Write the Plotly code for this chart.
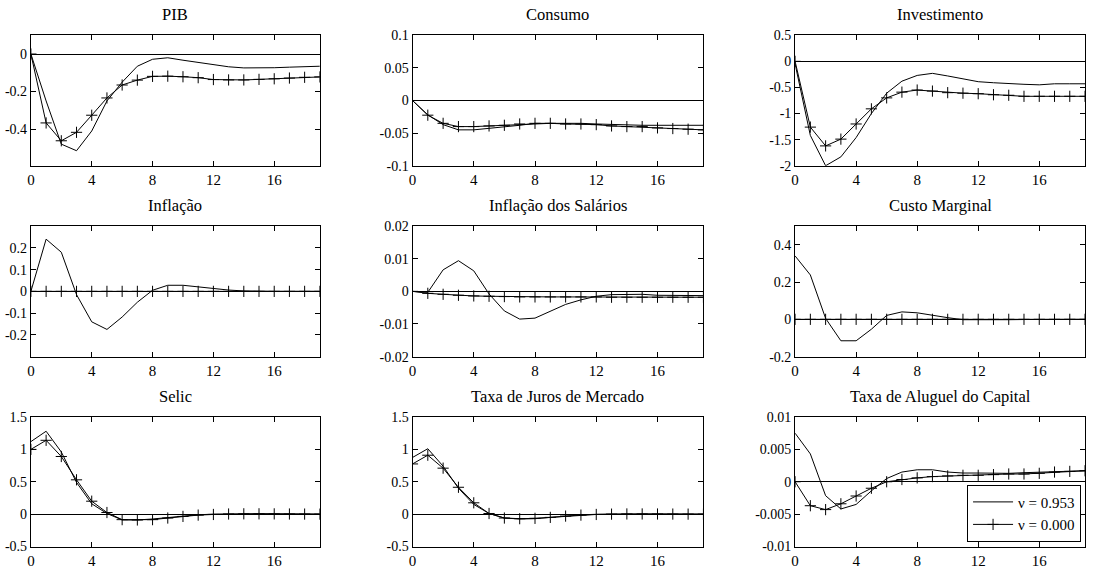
import plotly.graph_objects as go

periods = list(range(20))

titles = ["PIB", "Consumo", "Investimento",
          "Inflação", "Inflação dos Salários", "Custo Marginal",
          "Selic", "Taxa de Juros de Mercado", "Taxa de Aluguel do Capital"]

series_names = ["ν = 0.953", "ν = 0.000"]

# v = 0.953 (plain line) and v = 0.000 (line with + markers)
pib_a = [0, -0.25, -0.48, -0.515, -0.41, -0.25, -0.15, -0.065, -0.028, -0.02,
         -0.033, -0.046, -0.057, -0.068, -0.074, -0.075, -0.073, -0.07, -0.067, -0.065]
pib_b = [0, -0.367, -0.462, -0.417, -0.326, -0.234, -0.165, -0.139, -0.119, -0.118,
         -0.121, -0.126, -0.136, -0.138, -0.138, -0.135, -0.132, -0.128, -0.124, -0.122]

cons_a = [0, -0.022, -0.037, -0.045, -0.045, -0.043, -0.040, -0.038, -0.035, -0.035,
          -0.034, -0.035, -0.036, -0.037, -0.037, -0.038, -0.038, -0.038, -0.038, -0.038]
cons_b = [0, -0.0225, -0.035, -0.040, -0.040, -0.039, -0.038, -0.036, -0.035, -0.035,
          -0.036, -0.036, -0.037, -0.039, -0.040, -0.040, -0.042, -0.043, -0.044, -0.045]

inv_a = [-0.05, -1.42, -2.0, -1.83, -1.46, -1.0, -0.61, -0.38, -0.27, -0.23,
         -0.28, -0.34, -0.39, -0.41, -0.43, -0.44, -0.45, -0.43, -0.43, -0.43]
inv_b = [0, -1.26, -1.62, -1.49, -1.2, -0.91, -0.70, -0.59, -0.55, -0.57,
         -0.60, -0.61, -0.62, -0.64, -0.65, -0.67, -0.67, -0.67, -0.67, -0.67]

infl_a = [0, 0.24, 0.18, -0.015, -0.14, -0.175, -0.118, -0.05, 0.005, 0.028,
          0.028, 0.02, 0.013, 0.006, 0.002, 0.0, 0.0, 0.0, 0.0, 0.0]
infl_b = [0, 0, 0, 0, 0, 0, 0, 0, 0, 0, 0, 0, 0, 0, 0, 0, 0, 0, 0, 0]

sal_a = [0, -0.0003, 0.0066, 0.0094, 0.0063, -0.0008, -0.006, -0.0085, -0.0082, -0.006,
         -0.004, -0.0026, -0.0015, -0.001, -0.0009, -0.0009, -0.0012, -0.0013, -0.0013, -0.0013]
sal_b = [0, -0.0006, -0.0009, -0.0012, -0.0014, -0.0015, -0.0016, -0.0017, -0.0017, -0.0017,
         -0.0017, -0.0017, -0.0017, -0.0018, -0.0018, -0.0018, -0.0018, -0.0018, -0.0018, -0.0018]

cmg_a = [0.34, 0.238, 0.005, -0.115, -0.115, -0.053, 0.021, 0.04, 0.035, 0.021,
         0.009, -0.002, -0.003, -0.003, -0.002, -0.001, 0.0, 0.0, 0.0, 0.0]
cmg_b = [0, 0, 0, 0, 0, 0, 0, 0, 0, 0, 0, 0, 0, 0, 0, 0, 0, 0, 0, 0]

selic_a = [1.12, 1.28, 0.96, 0.49, 0.16, 0.01, -0.09, -0.09, -0.075, -0.05,
           -0.025, -0.01, 0.0, 0.005, 0.007, 0.006, 0.004, 0.002, 0.001, 0.0]
selic_b = [1.0, 1.14, 0.89, 0.53, 0.2, 0.025, -0.085, -0.09, -0.085, -0.06,
           -0.035, -0.015, -0.005, 0.002, 0.005, 0.005, 0.004, 0.002, 0.001, 0.0]

juros_a = [0.875, 1.01, 0.74, 0.40, 0.15, 0.01, -0.06, -0.075, -0.07, -0.05,
           -0.03, -0.012, -0.003, 0.003, 0.005, 0.004, 0.003, 0.002, 0.001, 0.0]
juros_b = [0.775, 0.91, 0.71, 0.415, 0.175, 0.01, -0.06, -0.07, -0.065, -0.05,
           -0.03, -0.015, -0.005, 0.0, 0.003, 0.003, 0.002, 0.001, 0.0, 0.0]

alug_a = [0.0075, 0.0043, -0.00215, -0.0042, -0.0035, -0.0014, 0.0005, 0.0015, 0.00185, 0.00185,
          0.0015, 0.00135, 0.00135, 0.0013, 0.0013, 0.0014, 0.0015, 0.0016, 0.0017, 0.0017]
alug_b = [0, -0.0037, -0.0043, -0.0034, -0.0022, -0.001, 0.0, 0.00035, 0.0006, 0.0008,
          0.0009, 0.001, 0.001, 0.0011, 0.0012, 0.0012, 0.0013, 0.0015, 0.0016, 0.0017]

series_a = [pib_a, cons_a, inv_a, infl_a, sal_a, cmg_a, selic_a, juros_a, alug_a]
series_b = [pib_b, cons_b, inv_b, infl_b, sal_b, cmg_b, selic_b, juros_b, alug_b]

x_ticks = [0, 4, 8, 12, 16]
x_range = [0, 19]

y_ranges = [[-0.595, 0.1], [-0.1, 0.1], [-2, 0.5],
            [-0.3, 0.3], [-0.02, 0.02], [-0.2, 0.5],
            [-0.5, 1.5], [-0.5, 1.5], [-0.01, 0.01]]
y_ticks = [[-0.4, -0.2, 0], [-0.1, -0.05, 0, 0.05, 0.1], [-2, -1.5, -1, -0.5, 0, 0.5],
           [-0.2, -0.1, 0, 0.1, 0.2], [-0.02, -0.01, 0, 0.01, 0.02], [-0.2, 0, 0.2, 0.4],
           [-0.5, 0, 0.5, 1, 1.5], [-0.5, 0, 0.5, 1, 1.5], [-0.01, -0.005, 0, 0.005, 0.01]]

W, H = 1094, 574
col_px = [(27, 317), (410, 702), (794, 1085)]
row_px = [(29, 163), (225, 359), (421, 554)]

FONT = "Liberation Serif"

fig = go.Figure()
annotations = []
layout_axes = {}

for i in range(9):
    r, c = divmod(i, 3)
    n = i + 1
    xa = "x" if n == 1 else f"x{n}"
    ya = "y" if n == 1 else f"y{n}"
    xkey = "xaxis" if n == 1 else f"xaxis{n}"
    ykey = "yaxis" if n == 1 else f"yaxis{n}"
    x0, x1 = col_px[c][0] / W, col_px[c][1] / W
    y1, y0 = 1 - row_px[r][0] / H, 1 - row_px[r][1] / H

    fig.add_trace(go.Scatter(
        x=periods, y=series_a[i], mode="lines", name=series_names[0],
        line=dict(color="black", width=1), xaxis=xa, yaxis=ya,
        showlegend=(i == 8), legendgroup="a"))
    fig.add_trace(go.Scatter(
        x=periods, y=series_b[i], mode="lines+markers", name=series_names[1],
        line=dict(color="black", width=1),
        marker=dict(symbol="cross-thin", size=8, line=dict(color="black", width=1)),
        xaxis=xa, yaxis=ya, showlegend=(i == 8), legendgroup="b", cliponaxis=True))

    layout_axes[xkey] = dict(
        domain=[x0, x1], range=x_range, tickvals=x_ticks,
        ticktext=[str(t) for t in x_ticks], anchor=ya,
        showline=True, linecolor="black", linewidth=1, mirror="ticks",
        ticks="inside", ticklen=5, tickcolor="black", showgrid=False, zeroline=False,
        tickfont=dict(family=FONT, size=15, color="black"))
    layout_axes[ykey] = dict(
        domain=[y0, y1], range=y_ranges[i], tickvals=y_ticks[i],
        ticktext=[f"{t:g}" for t in y_ticks[i]], anchor=xa,
        showline=True, linecolor="black", linewidth=1, mirror="ticks",
        ticks="inside", ticklen=5, tickcolor="black", showgrid=False,
        zeroline=True, zerolinecolor="black", zerolinewidth=1,
        tickfont=dict(family=FONT, size=14, color="black"))

    annotations.append(dict(
        text=titles[i], x=(x0 + x1) / 2, y=y1, xref="paper", yref="paper",
        xanchor="center", yanchor="bottom", yshift=9, showarrow=False,
        font=dict(family=FONT, size=16.5, color="black")))

fig.update_layout(
    width=W, height=H,
    margin=dict(l=0, r=0, t=0, b=0),
    paper_bgcolor="white", plot_bgcolor="white",
    annotations=annotations,
    font=dict(family=FONT, size=14, color="black"),
    legend=dict(x=1081 / W, y=1 - 549 / H, xanchor="right", yanchor="bottom",
                bgcolor="white", bordercolor="black", borderwidth=1,
                font=dict(family=FONT, size=15, color="black"),
                tracegroupgap=0, itemwidth=40),
    **layout_axes)

fig.write_html("out.html")
